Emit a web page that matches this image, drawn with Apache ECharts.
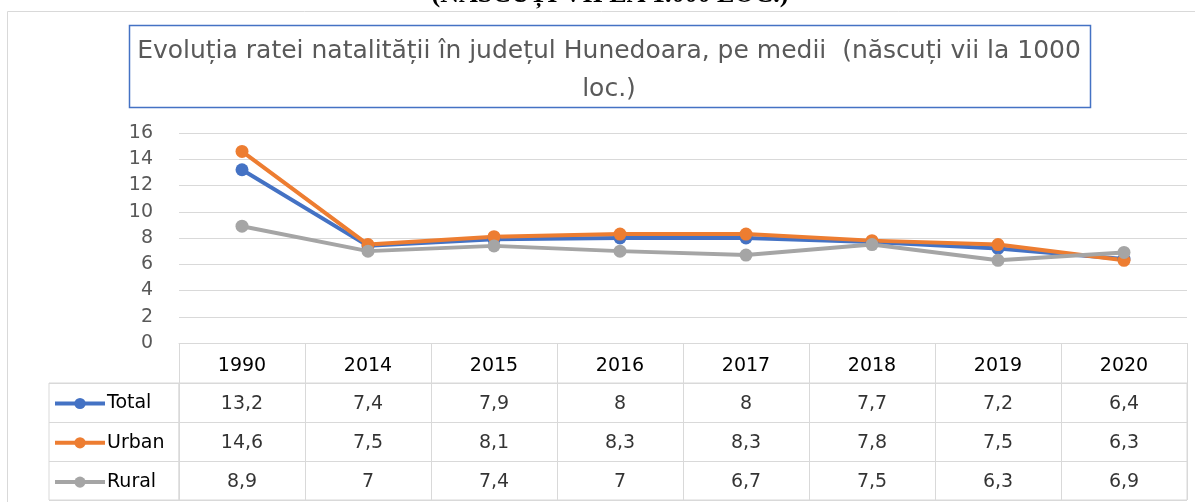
<!DOCTYPE html>
<html>
<head>
<meta charset="utf-8">
<script src="https://cdn.jsdelivr.net/npm/echarts@6/dist/echarts.min.js"></script>
<style>
  html, body { margin: 0; padding: 0; background: #fff; }
  #chart { width: 1195px; height: 502px; }
</style>
</head>
<body>
<div id="chart"></div>
<script>
const years = ["1990", "2014", "2015", "2016", "2017", "2018", "2019", "2020"];
const seriesNames = ["Total", "Urban", "Rural"];
const totalData = [13.2, 7.4, 7.9, 8, 8, 7.7, 7.2, 6.4];
const urbanData = [14.6, 7.5, 8.1, 8.3, 8.3, 7.8, 7.5, 6.3];
const ruralData = [8.9, 7, 7.4, 7, 6.7, 7.5, 6.3, 6.9];
const yTicks = [0, 2, 4, 6, 8, 10, 12, 14, 16];

const colors = ["#4472C4", "#ED7D31", "#A5A5A5"];
const font = "DejaVu Sans";
const gridColor = "#d9d9d9";

// celule tabel: [indice an, indice rand, valoare]
const tableCells = [];
[totalData, urbanData, ruralData].forEach((arr, r) => {
  arr.forEach((v, i) => tableCells.push([i, r, v]));
});
const fmt = (v) => String(v).replace(".", ",");

const chart = echarts.init(document.getElementById("chart"));

const option = {
  animation: false,
  color: colors,
  textStyle: { fontFamily: font },
  legend: {
    data: seriesNames,
    orient: "vertical",
    left: 53,
    top: 394,
    padding: 0,
    itemWidth: 50,
    itemHeight: 14,
    itemGap: 20.3,
    lineStyle: { width: 4 },
    textStyle: { color: "#000", fontSize: 19, fontFamily: font, padding: [0, 0, 0, -3] }
  },
  grid: [
    { left: 179, right: 8, top: 133, height: 210 },
    { left: 179, right: 8, top: 383, height: 117, show: true, borderColor: gridColor, borderWidth: 1 },
    { left: 49, width: 130, top: 383, height: 117, show: true, borderColor: gridColor, borderWidth: 1 }
  ],
  xAxis: [
    {
      type: "category",
      gridIndex: 0,
      data: years,
      boundaryGap: true,
      axisLine: { lineStyle: { color: gridColor, width: 1 } },
      axisTick: { show: true, length: 40, interval: 0, lineStyle: { color: gridColor } },
      axisLabel: { color: "#000", fontSize: 19, margin: 14, interval: 0 }
    },
    {
      type: "category",
      gridIndex: 1,
      data: years,
      boundaryGap: true,
      axisLine: { show: false },
      axisTick: { show: false },
      axisLabel: { show: false },
      splitLine: { show: true, interval: 0, lineStyle: { color: gridColor } }
    },
    {
      type: "value",
      gridIndex: 2,
      show: false
    }
  ],
  yAxis: [
    {
      type: "value",
      gridIndex: 0,
      min: yTicks[0],
      max: yTicks[yTicks.length - 1],
      interval: 2,
      axisLine: { show: false },
      axisTick: { show: false },
      axisLabel: { color: "#595959", fontSize: 19, margin: 26 },
      splitLine: { lineStyle: { color: gridColor, width: 1 } }
    },
    {
      type: "category",
      gridIndex: 1,
      data: seriesNames,
      inverse: true,
      axisLine: { show: false },
      axisTick: { show: false },
      axisLabel: { show: false },
      splitLine: { show: true, interval: 0, lineStyle: { color: gridColor } }
    },
    {
      type: "category",
      gridIndex: 2,
      data: seriesNames,
      inverse: true,
      axisLine: { show: false },
      axisTick: { show: false },
      axisLabel: { show: false },
      splitLine: { show: true, interval: 0, lineStyle: { color: gridColor } }
    }
  ],
  graphic: [
    {
      type: "rect",
      silent: true,
      shape: { x: 7.5, y: 11.5, width: 1200, height: 500 },
      style: { fill: null, stroke: gridColor, lineWidth: 1 }
    },
    {
      type: "text",
      silent: true,
      x: 610,
      y: 8,
      style: {
        text: "(NĂSCUȚI VII LA 1.000 LOC.)",
        font: "bold 26px 'Liberation Serif'",
        fill: "#000",
        align: "center",
        verticalAlign: "bottom"
      }
    },
    {
      type: "rect",
      silent: true,
      shape: { x: 129.5, y: 25.5, width: 961, height: 82 },
      style: { fill: "#fff", stroke: "#4472C4", lineWidth: 1.5 }
    },
    {
      type: "text",
      silent: true,
      x: 609,
      y: 32,
      style: {
        text: "Evoluția ratei natalității în județul Hunedoara, pe medii  (născuți vii la 1000\nloc.)",
        font: "25px 'DejaVu Sans'",
        fill: "#595959",
        align: "center",
        verticalAlign: "top",
        lineHeight: 38
      }
    }
  ],
  series: [
    {
      name: seriesNames[0],
      type: "line",
      data: totalData,
      symbol: "circle",
      symbolSize: 13,
      lineStyle: { width: 4 }
    },
    {
      name: seriesNames[1],
      type: "line",
      data: urbanData,
      symbol: "circle",
      symbolSize: 13,
      lineStyle: { width: 4 }
    },
    {
      name: seriesNames[2],
      type: "line",
      data: ruralData,
      symbol: "circle",
      symbolSize: 13,
      lineStyle: { width: 4 }
    },
    {
      name: "tabel",
      type: "scatter",
      xAxisIndex: 1,
      yAxisIndex: 1,
      data: tableCells,
      symbolSize: 2,
      itemStyle: { color: "rgba(0,0,0,0)" },
      silent: true,
      label: {
        show: true,
        position: "inside",
        offset: [0, 2],
        color: "#000",
        fontSize: 19,
        fontFamily: font,
        formatter: (p) => fmt(p.value[2])
      }
    }
  ]
};

chart.setOption(option);
</script>
</body>
</html>
